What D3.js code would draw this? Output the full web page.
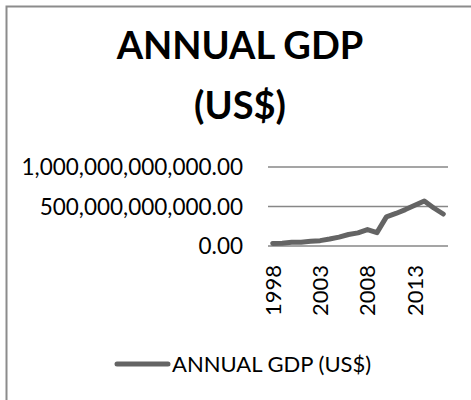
<!DOCTYPE html>
<html>
<head>
<meta charset="utf-8">
<script src="https://cdn.jsdelivr.net/npm/d3@7"></script>
<style>
  html, body { margin: 0; padding: 0; background: #fff; }
  svg { display: block; }
  text { font-family: Lato, "Open Sans", sans-serif; fill: #000; }
</style>
</head>
<body>
<div id="chart"></div>
<script>
// annual GDP, current US$ (old WB series, pre-rebasing until 2009)
const years = [1998, 1999, 2000, 2001, 2002, 2003, 2004, 2005, 2006, 2007,
               2008, 2009, 2010, 2011, 2012, 2013, 2014, 2015, 2016];
const gdp = [32.1e9, 35.9e9, 46.0e9, 48.0e9, 59.1e9, 67.7e9, 87.8e9, 112.2e9, 145.4e9, 166.5e9,
             208.1e9, 169.5e9, 369.1e9, 411.7e9, 460.9e9, 514.9e9, 568.5e9, 481.1e9, 405.1e9];
const yTicks = [0, 5e11, 1e12];
const xLabelYears = [1998, 2003, 2008, 2013];
const seriesName = 'ANNUAL GDP (US$)';
const titleLines = ['ANNUAL GDP', '(US$)'];

const W = 471, H = 400;
const plot = { left: 268, right: 448, top: 167, bottom: 246 };

const svg = d3.select('#chart').append('svg')
  .attr('width', W).attr('height', H);

// chart frame (cropped at right/bottom like the source screenshot)
svg.append('rect')
  .attr('x', 6.5).attr('y', 6.5)
  .attr('width', W + 10).attr('height', H + 10)
  .attr('fill', '#fff').attr('stroke', '#8c8c8c').attr('stroke-width', 2);

// title
svg.append('g').selectAll('text').data(titleLines).join('text')
  .attr('x', 240).attr('y', (d, i) => 59 + i * 60)
  .attr('text-anchor', 'middle')
  .style('font-size', '38px').style('font-weight', 'bold')
  .text(d => d);

const x = d3.scaleBand().domain(years).range([plot.left, plot.right]);
const y = d3.scaleLinear().domain([0, 1e12]).range([plot.bottom, plot.top]);

const fmt = d3.format(',.2f');

// gridlines
svg.append('g').selectAll('line').data(yTicks).join('line')
  .attr('x1', plot.left).attr('x2', plot.right)
  .attr('y1', d => y(d)).attr('y2', d => y(d))
  .attr('stroke', '#878787').attr('stroke-width', 1.5);

// y labels
svg.append('g').selectAll('text').data(yTicks).join('text')
  .attr('x', 243).attr('y', d => y(d))
  .attr('dy', '0.36em')
  .attr('text-anchor', 'end')
  .style('font-size', '22.5px')
  .text(d => fmt(d));

// x labels, rotated
svg.append('g').selectAll('text').data(xLabelYears).join('text')
  .attr('transform', d => 'translate(' + (x(d) + x.bandwidth() / 2) + ',265) rotate(-90)')
  .attr('dy', '0.36em')
  .attr('text-anchor', 'end')
  .style('font-size', '22px')
  .text(d => d);

// series line
const line = d3.line()
  .x((d, i) => x(years[i]) + x.bandwidth() / 2)
  .y(d => y(d));

svg.append('path').datum(gdp)
  .attr('d', line)
  .attr('fill', 'none').attr('stroke', '#646464')
  .attr('stroke-width', 5)
  .attr('stroke-linejoin', 'round').attr('stroke-linecap', 'round');

// legend
const lg = svg.append('g').attr('transform', 'translate(117,364)');
lg.append('line').attr('x1', 0).attr('x2', 51)
  .attr('stroke', '#646464').attr('stroke-width', 5).attr('stroke-linecap', 'round');
lg.append('text').attr('x', 55).attr('dy', '0.36em')
  .style('font-size', '22px')
  .text(seriesName);
</script>
</body>
</html>
